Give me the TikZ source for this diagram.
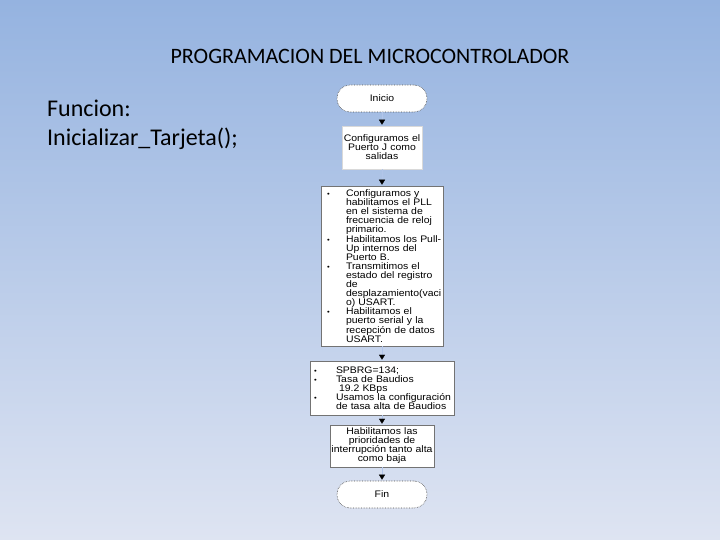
\documentclass[tikz,border=0pt]{standalone}
\usepackage{fontspec}
\setmainfont{Carlito}
\newfontfamily\arialf[FakeStretch=1.1]{Liberation Sans}
\usetikzlibrary{arrows.meta}
\definecolor{bgtop}{RGB}{149,179,224}
\definecolor{bgbot}{RGB}{222,228,242}
\definecolor{lineinv}{RGB}{178,197,233}
\newcommand{\bl}{\hspace*{6pt}\makebox[19pt][l]{\fontsize{7}{7}\selectfont\textbullet}}
\newcommand{\ind}{\hspace*{25pt}}
\newcommand{\blb}{\hspace*{4pt}\makebox[22pt][l]{\fontsize{7}{7}\selectfont\textbullet}}
\newcommand{\indb}{\hspace*{26pt}}
\newcommand{\tightlines}{\lineskiplimit=-20pt\relax\lineskip=0pt\relax}
\begin{document}
\begin{tikzpicture}[x=1pt,y=-1pt,
  box/.style={draw=black!55, line width=0.5pt, fill=white, inner sep=0pt,
    font=\arialf\fontsize{9.5}{9}\selectfont\tightlines},
  term/.style={draw=black!70, densely dotted, line width=0.6pt, fill=white,
    rounded corners=13pt, minimum width=90pt, minimum height=27pt, inner sep=0pt,
    font=\arialf\fontsize{9.5}{12}\selectfont},
  flow/.style={draw=lineinv, line width=0.3pt,
    -{Triangle[width=6pt,length=5pt,black]}, shorten >=1pt},
  titletext/.style={font=\fontsize{22}{26}\selectfont, inner sep=0pt},
  bodytext/.style={font=\fontsize{24}{29}\selectfont, inner sep=0pt}]
\shade[top color=bgtop,bottom color=bgbot] (0,0) rectangle (720,540);
\useasboundingbox (0,0) rectangle (720,540);

\node[titletext, anchor=base] (title) at (370,63.3) {PROGRAMACION DEL MICROCONTROLADOR};
\node[bodytext, anchor=base west] (fn1) at (47,116.7) {Funcion:};
\node[bodytext, anchor=base west] (fn2) at (47,145.2) {Inicializar\_Tarjeta();};

\node[term] (inicio) at (382,98.5) {Inicio};

\node[box, draw=black!15, text width=80pt, align=center, minimum height=43pt] (b1) at (382,147.5)
  {Configuramos el\\Puerto J como\\salidas};

\node[box, font=\arialf\fontsize{9.5}{9.1}\selectfont\tightlines, text width=122pt, align=left, minimum height=160pt] (b2) at (382,266)
  {\bl Configuramos y\\
   \ind habilitamos el PLL\\
   \ind en el sistema de\\
   \ind frecuencia de reloj\\
   \ind primario.\\
   \bl Habilitamos los Pull-\\
   \ind Up internos del\\
   \ind Puerto B.\\
   \bl Transmitimos el\\
   \ind estado del registro\\
   \ind de\\
   \ind desplazamiento(vaci\\
   \ind o) USART.\\
   \bl Habilitamos el\\
   \ind puerto serial y la\\
   \ind recepción de datos\\
   \ind USART.};

\node[box, text width=144pt, align=left, minimum height=54pt] (b3) at (382,388)
  {\blb SPBRG=134;\\
   \blb Tasa de Baudios\\
   \indb\hspace*{3pt}19.2 KBps\\
   \blb Usamos la configuración\\
   \indb de tasa alta de Baudios};

\node[box, text width=104pt, align=center, minimum height=42pt] (b4) at (382,446)
  {Habilitamos las\\prioridades de\\interrupción tanto alta\\como baja};

\node[term] (fin) at (382,494.5) {Fin};

\draw[flow] (inicio) -- (b1);
\draw[flow] (b1) -- (b2);
\draw[flow] (b2) -- (b3);
\draw[flow] (b3) -- (b4);
\draw[flow] (b4) -- (fin);
\end{tikzpicture}
\end{document}
